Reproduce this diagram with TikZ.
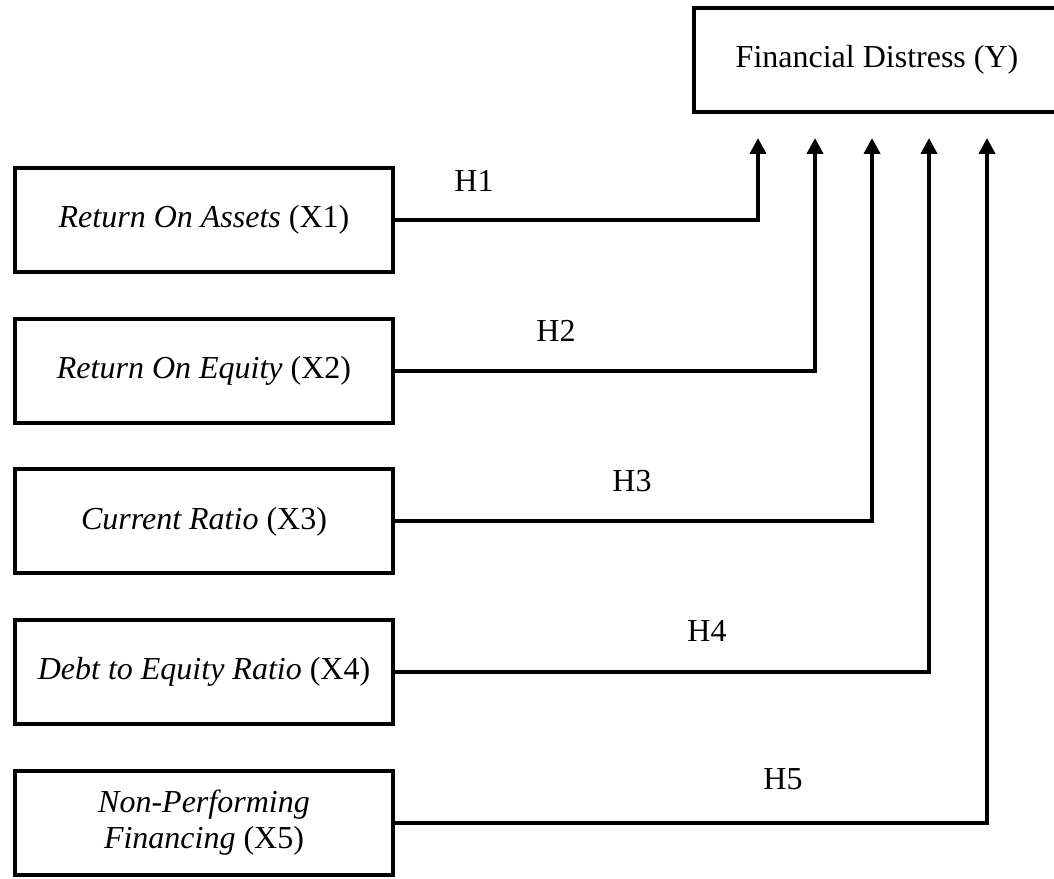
\documentclass[tikz,border=0pt]{standalone}
\usepackage{fontspec}
\setmainfont{Liberation Serif}
\usetikzlibrary{positioning,arrows.meta}

\begin{document}
\begin{tikzpicture}[
  x=0.375pt, y=-0.375pt,
  node distance=16pt,
  box/.style={draw, line width=1.5pt, align=center, minimum width=141.75pt,
              minimum height=39pt, inner sep=0pt, font=\fontsize{12}{13.5}\selectfont},
  arrow/.style={-{Triangle[length=6pt,width=6pt]}, line width=1.5pt},
  hyp/.style={font=\fontsize{12}{13.5}\selectfont}
]
\clip (0,0) rectangle (1054,879);
\node[box, minimum width=137pt] (fd) at (877,60) {Financial Distress (Y)};
\node[box] (roa) at (204,220) {\textit{Return On Assets} (X1)};
\node[box, below=of roa] (roe) {\textit{Return On Equity} (X2)};
\node[box, below=of roe] (cr)  {\textit{Current Ratio} (X3)};
\node[box, below=of cr]  (der) {\textit{Debt to Equity Ratio} (X4)};
\node[box, below=of der] (npf) {\textit{Non-Performing}\\\textit{Financing} (X5)};
% arrow ends under the Y box
\coordinate (t1) at (758,138);
\coordinate (t2) at (815,138);
\coordinate (t3) at (872,138);
\coordinate (t4) at (929,138);
\coordinate (t5) at (987,138);
\draw[arrow] (roa.east) -| (t1);
\draw[arrow] (roe.east) -| (t2);
\draw[arrow] (cr.east)  -| (t3);
\draw[arrow] (der.east) -| (t4);
\draw[arrow] (npf.east) -| (t5);
\node[hyp] (h1) at (474,181) {H1};
\node[hyp] (h2) at (556,331) {H2};
\node[hyp] (h3) at (632,481) {H3};
\node[hyp] (h4) at (707,631) {H4};
\node[hyp] (h5) at (783,779) {H5};
\end{tikzpicture}
\end{document}
